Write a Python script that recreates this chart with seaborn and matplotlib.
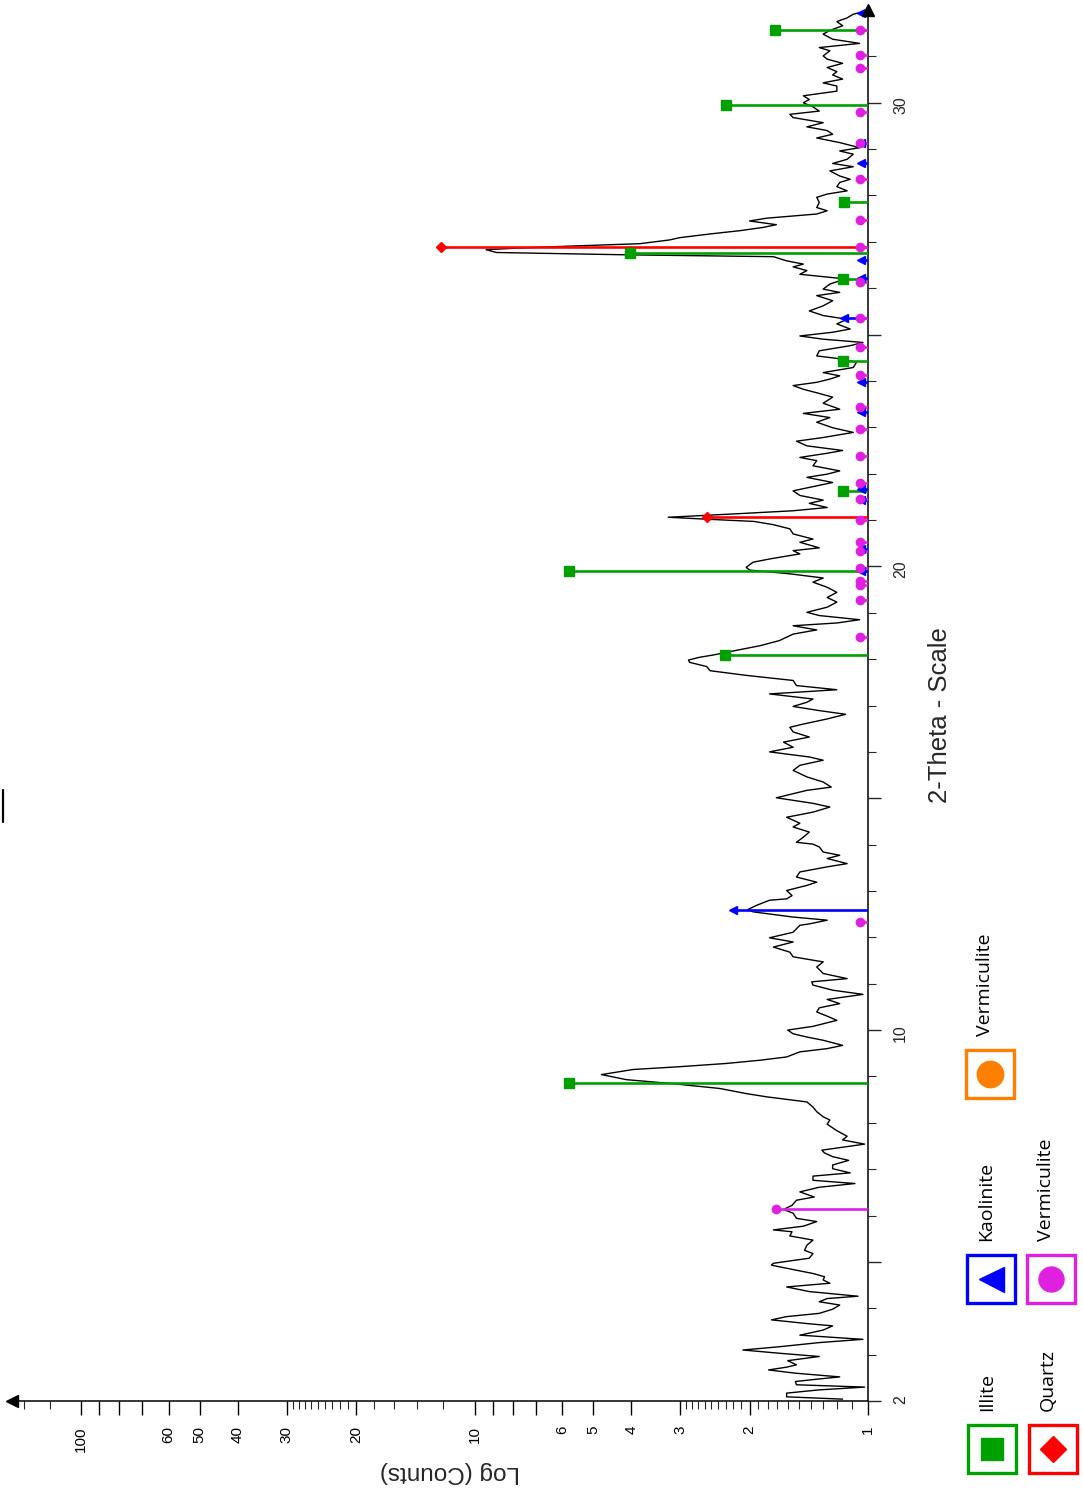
import matplotlib
matplotlib.use("Agg")
import matplotlib.pyplot as plt
import seaborn as sns
import pandas as pd
from matplotlib.patches import Rectangle
from matplotlib.ticker import FixedLocator, FixedFormatter, NullFormatter

# ---------------- data ----------------
theta = [2.04, 2.09, 2.17, 2.24, 2.30, 2.35, 2.42, 2.47, 2.52, 2.60, 2.67, 2.73, 2.78, 2.87, 2.96, 3.03, 3.10, 3.17, 3.26, 3.33,
         3.42, 3.53, 3.62, 3.67, 3.75, 3.82, 3.89, 3.98, 4.07, 4.14, 4.21, 4.26, 4.36, 4.46, 4.54, 4.61, 4.68, 4.75, 4.82, 4.93,
         4.97, 5.08, 5.18, 5.25, 5.36, 5.47, 5.56, 5.65, 5.69, 5.77, 5.87, 5.94, 6.05, 6.13, 6.22, 6.33, 6.40, 6.51, 6.61, 6.69,
         6.76, 6.85, 6.92, 7.01, 7.09, 7.19, 7.27, 7.35, 7.41,
         7.54, 7.63, 7.71, 7.83, 7.97, 8.06, 8.13, 8.24, 8.34, 8.45, 8.56, 8.63, 8.74, 8.85, 8.93, 9.04, 9.15, 9.21, 9.28, 9.35,
         9.42, 9.53, 9.60, 9.67, 9.78, 9.85, 9.92, 10.00, 10.08, 10.21, 10.30, 10.39, 10.48, 10.57, 10.66, 10.77, 10.86, 10.97,
         11.04, 11.11, 11.22, 11.36, 11.47, 11.58, 11.68, 11.79, 11.90, 11.99, 12.11, 12.26,
         12.29, 12.37, 12.44, 12.55, 12.60, 12.69, 12.80, 12.83, 12.90, 13.01, 13.12, 13.19, 13.30, 13.41, 13.52, 13.59, 13.70,
         13.77, 13.84, 13.95, 14.01, 14.05, 14.16, 14.27, 14.38, 14.46, 14.59, 14.70, 14.81, 14.89, 15.01, 15.17, 15.24, 15.35,
         15.46, 15.60, 15.71, 15.82, 15.89, 16.00, 16.10, 16.21, 16.32, 16.43, 16.53, 16.60, 16.71, 16.81, 16.89, 16.98, 17.07,
         17.14, 17.25,
         17.34, 17.43, 17.54, 17.65, 17.75, 17.84, 17.93, 17.98, 18.04, 18.09, 18.19, 18.29, 18.40, 18.54, 18.63, 18.72, 18.78,
         18.85, 18.94, 19.01, 19.12, 19.23, 19.33, 19.44, 19.55, 19.66, 19.75, 19.84, 19.92, 19.98, 20.09, 20.16, 20.27, 20.34,
         20.40, 20.52, 20.59, 20.70, 20.81, 20.90, 20.97, 21.02, 21.06, 21.10, 21.14, 21.20, 21.27, 21.36, 21.43, 21.53, 21.63,
         21.72, 21.81, 21.92, 21.99, 22.06, 22.17, 22.28,
         22.35, 22.44, 22.50, 22.60, 22.70, 22.78, 22.89, 22.99, 23.11, 23.21, 23.30, 23.39, 23.52, 23.65, 23.73, 23.82, 23.90,
         23.97, 24.04, 24.11, 24.18, 24.29, 24.40, 24.47, 24.54, 24.65, 24.76, 24.83, 24.90, 24.97, 25.05, 25.12, 25.23, 25.33,
         25.41, 25.51, 25.62, 25.73, 25.84, 25.91, 25.98, 26.09, 26.20, 26.30, 26.38, 26.46, 26.52, 26.59, 26.68, 26.72, 26.77,
         26.83, 26.86, 26.91, 26.96,
         27.04, 27.09, 27.17, 27.24, 27.31, 27.37, 27.45, 27.51, 27.60, 27.67, 27.74, 27.85, 27.96, 28.03, 28.10, 28.19, 28.28,
         28.35, 28.42, 28.53, 28.62, 28.69, 28.78, 28.89, 28.96, 29.03, 29.14, 29.24, 29.32, 29.40, 29.48, 29.57, 29.68, 29.75,
         29.82, 29.91, 30.00, 30.07, 30.15, 30.25, 30.36, 30.43, 30.51, 30.60, 30.67, 30.76, 30.85, 30.94, 31.01, 31.12, 31.19,
         31.28, 31.37, 31.48, 31.56, 31.66, 31.75, 31.83, 31.91, 31.96]

counts = [1.16, 1.61, 1.61, 1.33, 1.02, 1.52, 1.53, 1.35, 1.18, 1.53, 1.79, 1.61, 1.52, 1.60, 1.33, 1.68, 2.08, 1.68, 1.33, 1.03,
          1.49, 1.30, 1.23, 1.43, 1.76, 1.61, 1.33, 1.23, 1.18, 1.33, 1.27, 1.06, 1.41, 1.61, 1.25, 1.30, 1.29, 1.38, 1.52, 1.76,
          1.74, 1.41, 1.38, 1.45, 1.43, 1.38, 1.58, 1.56, 1.74, 1.46, 1.35, 1.52, 1.55, 1.64, 1.56, 1.52, 1.37, 1.49, 1.33, 1.08,
          1.38, 1.38, 1.11, 1.23, 1.23, 1.12, 1.23, 1.29, 1.31,
          1.02, 1.16, 1.13, 1.20, 1.27, 1.25, 1.30, 1.35, 1.38, 1.43, 1.81, 2.04, 2.38, 3.19, 4.11, 4.76, 3.95, 3.01, 2.29, 1.88,
          1.61, 1.49, 1.27, 1.16, 1.30, 1.43, 1.55, 1.60, 1.38, 1.20, 1.27, 1.35, 1.33, 1.18, 1.27, 1.03, 1.23, 1.38,
          1.39, 1.13, 1.30, 1.35, 1.30, 1.55, 1.58, 1.74, 1.55, 1.78, 1.55, 1.49,
          1.41, 1.27, 1.56, 1.96, 2.02, 1.92, 1.78, 1.61, 1.56, 1.61, 1.43, 1.35, 1.52, 1.49, 1.27, 1.13, 1.27,
          1.18, 1.30, 1.33, 1.38, 1.52, 1.46, 1.41, 1.55, 1.49, 1.61, 1.38, 1.25, 1.38, 1.71, 1.43, 1.24, 1.30,
          1.43, 1.55, 1.49, 1.30, 1.41, 1.78, 1.55, 1.64, 1.41, 1.55, 1.58, 1.46, 1.27, 1.14, 1.33, 1.55, 1.43,
          1.38, 1.78,
          1.20, 1.52, 1.55, 2.04, 2.52, 2.57, 2.84, 2.86, 2.68, 2.47, 2.16, 1.88, 1.68, 1.55, 1.35, 1.55, 1.20,
          1.05, 1.33, 1.43, 1.27, 1.20, 1.27, 1.20, 1.27, 1.38, 1.30, 1.58, 2.00, 2.04, 1.96, 1.78, 1.49, 1.55,
          1.33, 1.49, 1.38, 1.55, 1.58, 1.74, 1.95, 2.60, 3.22, 2.60, 2.10, 1.55, 1.27, 1.41, 1.30, 1.49, 1.55,
          1.38, 1.23, 1.43, 1.27, 1.18, 1.38, 1.35,
          1.49, 1.27, 1.16, 1.43, 1.52, 1.30, 1.09, 1.23, 1.35, 1.25, 1.46, 1.18, 1.30, 1.23, 1.33, 1.46, 1.55,
          1.35, 1.25, 1.18, 1.30, 1.09, 1.07, 1.16, 1.35, 1.33, 1.11, 1.03, 1.30, 1.49, 1.23, 1.11, 1.20, 1.13,
          1.30, 1.41, 1.30, 1.23, 1.35, 1.18, 1.30, 1.25, 1.14, 1.49, 1.43, 1.55, 1.46, 1.61, 1.74, 4.11, 8.80,
          9.35, 8.00, 5.63, 3.80,
          3.20, 3.01, 2.52, 2.12, 1.85, 1.71, 2.00, 1.81, 1.35, 1.27, 1.35, 1.33, 1.35, 1.27, 1.13, 1.20, 1.18,
          1.11, 1.18, 1.25, 1.09, 1.23, 1.13, 1.09, 1.18, 1.05, 1.18, 1.35, 1.23, 1.27, 1.43, 1.30, 1.55, 1.58,
          1.33, 1.38, 1.46, 1.41, 1.46, 1.20, 1.20, 1.30, 1.16, 1.23, 1.20, 1.27, 1.16, 1.27, 1.30, 1.25, 1.33,
          1.05, 1.23, 1.30, 1.25, 1.16, 1.20, 1.13, 1.09, 1.03]

illite_theta = [8.86, 18.09, 19.90, 21.62, 24.43, 26.20, 26.75, 27.85, 29.95, 31.57]
illite_counts = [5.75, 2.31, 5.75, 1.155, 1.155, 1.155, 4.03, 1.15, 2.30, 1.725]

quartz_theta = [21.07, 26.88]
quartz_counts = [2.57, 12.2]

kaolinite_theta = [12.60, 19.91, 20.38, 21.43, 21.67, 23.32, 23.98, 25.35, 26.22, 26.61, 28.70, 29.14, 31.94]
kaolinite_counts = [2.20, 1.04, 1.04, 1.04, 1.04, 1.04, 1.04, 1.15, 1.04, 1.04, 1.04, 1.04, 1.04]

vermiculite_theta = [6.15, 12.34, 18.47, 19.28, 19.59, 19.68, 19.97, 20.33, 20.53, 20.99, 21.45, 21.80, 22.39,
                     22.96, 23.43, 24.13, 24.74, 25.35, 26.14, 26.88, 27.48, 28.35, 29.14, 29.80, 30.74, 31.03, 31.56]
vermiculite_counts = [1.71] + [1.048] * 26

legend_labels = ["Illite", "Quartz", "Kaolinite", "Vermiculite", "Vermiculite"]
legend_colors = ["#00a000", "#ff0000", "#0000ff", "#e020e0", "#ff8000"]
legend_markers = ["s", "D", "<", "o", "o"]

x_major = [1, 2, 3, 4, 5, 6, 7, 8, 9, 10, 20, 30, 40, 50, 60, 70, 80, 90, 100]
x_major_labels = ["1", "2", "3", "4", "5", "6", "", "", "", "10", "20", "30", "40", "50", "60", "", "", "", "100"]
x_minor = [1.1, 1.2, 1.3, 1.4, 1.5, 1.6, 1.7, 1.8, 1.9, 2.1, 2.2, 2.3, 2.4, 2.5, 2.6, 2.7, 2.8, 2.9,
           12, 14, 16, 18, 21, 22, 23, 24, 25, 26, 27, 28, 29, 120, 140]
y_major = [2, 5, 10, 15, 20, 25, 30]
y_major_labels = ["2", "", "10", "", "20", "", "30"]
y_minor = list(range(3, 32))

# ---------------- style ----------------
sns.set_style("white")
plt.rcParams["font.family"] = ["Liberation Sans", "DejaVu Sans"]

W, H = 1083, 1494
fig = plt.figure(figsize=(W / 100, H / 100), dpi=100)
fig.patch.set_facecolor("white")
ax = fig.add_axes([12 / W, 93 / H, 856 / W, 1391 / H])
ax.set_xscale("log")

df = pd.DataFrame({"theta": theta, "counts": counts})
sns.lineplot(data=df, x="counts", y="theta", orient="y", sort=False, estimator=None,
             color="black", linewidth=1.0, ax=ax, zorder=2)

phases = [
    (illite_theta, illite_counts, "#00a000", "s", 6.5),
    (quartz_theta, quartz_counts, "#ff0000", "D", 4.8),
    (kaolinite_theta, kaolinite_counts, "#0000ff", "<", 5.5),
    (vermiculite_theta, vermiculite_counts, "#e020e0", "o", 6.0),
]
for th, cn, col, mk, ms in phases:
    ax.hlines(th, 1, cn, color=col, linewidth=1.9, zorder=3)
    ax.plot(cn, th, linestyle="none", marker=mk, markersize=ms, color=col, zorder=4, clip_on=False)

ax.set_xlim(150, 1)
ax.set_ylim(2, 32)
ax.set_xlabel("")
ax.set_ylabel("")

for s in ["top", "left"]:
    ax.spines[s].set_visible(False)
for s in ["bottom", "right"]:
    ax.spines[s].set_color("black")
    ax.spines[s].set_linewidth(1.1)

ax.yaxis.tick_right()
ax.xaxis.set_major_locator(FixedLocator(x_major))
ax.xaxis.set_major_formatter(FixedFormatter(x_major_labels))
ax.xaxis.set_minor_locator(FixedLocator(x_minor))
ax.xaxis.set_minor_formatter(NullFormatter())
ax.yaxis.set_major_locator(FixedLocator(y_major))
ax.yaxis.set_major_formatter(FixedFormatter(y_major_labels))
ax.yaxis.set_minor_locator(FixedLocator(y_minor))
ax.yaxis.set_minor_formatter(NullFormatter())

ax.tick_params(axis="x", which="major", direction="out", length=10, width=1, pad=8,
               labelsize=11, labelrotation=90, bottom=True, top=False, colors="black")
ax.tick_params(axis="x", which="minor", direction="out", length=6, width=0.8, bottom=True, top=False)
ax.tick_params(axis="y", which="major", direction="out", length=9, width=1, pad=9,
               labelsize=11.5, labelrotation=90, right=True, left=False, labelright=True, labelleft=False)
ax.tick_params(axis="y", which="minor", direction="out", length=6, width=0.8, right=True, left=False)

# axis end arrows
ax.plot([0], [0], marker="<", markersize=8, color="black", transform=ax.transAxes, clip_on=False, zorder=6)
ax.plot([1], [1], marker="^", markersize=8, color="black", transform=ax.transAxes, clip_on=False, zorder=6)

# axis titles
fig.text(940 / W, 1 - 715 / H, "2-Theta - Scale", rotation=90, ha="center", va="center", fontsize=18.5)
fig.text(450 / W, 1 - 1472 / H, "Log (Counts)", rotation=180, ha="center", va="center", fontsize=17.5)

# ---------------- legend (overlay in pixel space) ----------------
ov = fig.add_axes([0, 0, 1, 1])
ov.set_xlim(0, W)
ov.set_ylim(H, 0)
ov.axis("off")
ov.patch.set_alpha(0)

box_pos = [(968, 1425), (1029, 1425), (967, 1255), (1027, 1255), (966, 1050)]
marker_sizes = [16, 13, 18, 18, 19]
for (bx, by), lab, col, mk, ms in zip(box_pos, legend_labels, legend_colors, legend_markers, marker_sizes):
    ov.add_patch(Rectangle((bx, by), 48, 48, fill=False, edgecolor=col, linewidth=2.4))
    ov.plot([bx + 24], [by + 24], marker=mk, markersize=ms, color=col, linestyle="none")
    ov.text(bx + 19, by - 14, lab, rotation=90, ha="center", va="bottom",
            fontsize=14, family=["Open Sans", "DejaVu Sans"], color="black")

# small stray mark at the left edge
ov.plot([3, 3], [790, 822], color="black", linewidth=1.6)

fig.savefig("out.png", dpi=100)
